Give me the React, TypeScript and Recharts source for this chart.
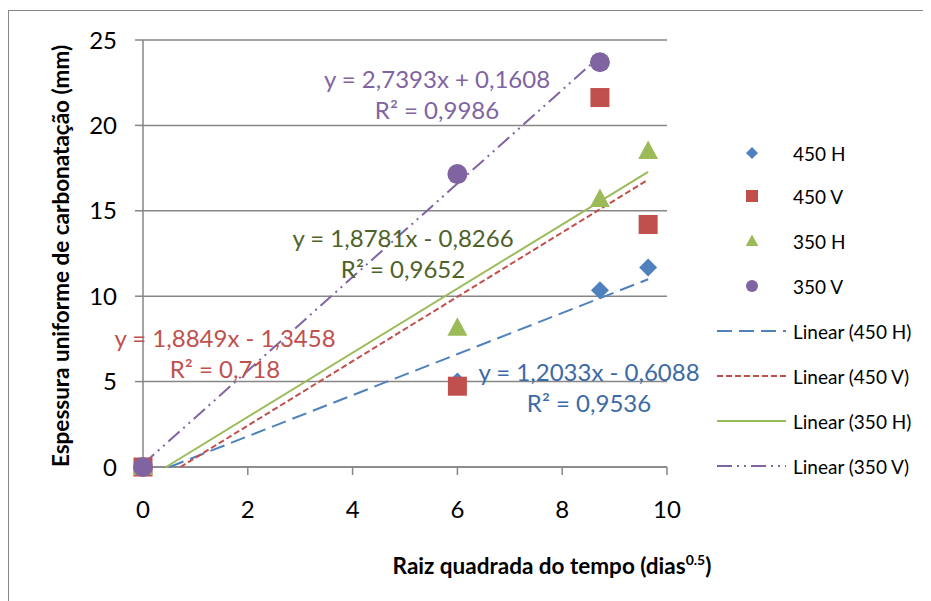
import { ScatterChart, Scatter, XAxis, YAxis, CartesianGrid } from "recharts";

// sqrt(days) at each reading
const X_TIME = [0, 6, 8.72, 9.64];
const X_TIME_350V = [0, 6, 8.72];

const Y_450H = [0, 5.0, 10.35, 11.68];
const Y_450V = [0, 4.73, 21.63, 14.2];
const Y_350H = [0, 8.15, 15.7, 18.5];
const Y_350V = [0, 17.15, 23.7];

const NAMES = ["450 H", "450 V", "350 H", "350 V"];
const SLOPES = [1.2033, 1.8849, 1.8781, 2.7393];
const INTERCEPTS = [-0.6088, -1.3458, -0.8266, 0.1608];
const EQUATIONS = [
  "y = 1,2033x - 0,6088",
  "y = 1,8849x - 1,3458",
  "y = 1,8781x - 0,8266",
  "y = 2,7393x + 0,1608",
];
const R2 = ["R² = 0,9536", "R² = 0,718", "R² = 0,9652", "R² = 0,9986"];

const X_TICKS = [0, 2, 4, 6, 8, 10];
const Y_TICKS = [0, 5, 10, 15, 20, 25];

const COLORS = ["#4F81BD", "#C0504D", "#9BBB59", "#8064A2"];
const LABEL_COLORS = ["#3C6AA6", "#C0504D", "#4F6228", "#8064A2"];
const DASHES = ["15 7", "6 3", undefined, "15 5 2 5 2 5"];
const FONT = "Lato, 'Open Sans', sans-serif";
const GRID = "#868686";

const toPoints = (xs: number[], ys: number[]) => xs.map((x, i) => ({ x, y: ys[i] }));

const series = [
  toPoints(X_TIME, Y_450H),
  toPoints(X_TIME, Y_450V),
  toPoints(X_TIME, Y_350H),
  toPoints(X_TIME_350V, Y_350V),
];

// trendline from the fitted equation, cut at y = 0
const trend = (i: number) => {
  const m = SLOPES[i];
  const b = INTERCEPTS[i];
  const xs = series[i].map((p) => p.x);
  const x0 = b < 0 ? -b / m : 0;
  const x1 = Math.max(...xs);
  return [
    { x: x0, y: m * x0 + b },
    { x: x1, y: m * x1 + b },
  ];
};

function Marker({ kind, cx, cy, s, color }: any) {
  if (kind === 0)
    return <polygon points={`${cx},${cy - s} ${cx + s},${cy} ${cx},${cy + s} ${cx - s},${cy}`} fill={color} />;
  if (kind === 1) return <rect x={cx - s} y={cy - s} width={s * 2} height={s * 2} fill={color} />;
  if (kind === 2)
    return <polygon points={`${cx},${cy - s * 1.1} ${cx + s * 1.05},${cy + s * 0.85} ${cx - s * 1.05},${cy + s * 0.85}`} fill={color} />;
  return <circle cx={cx} cy={cy} r={s} fill={color} />;
}

const MARKER_SIZE = [9, 9.5, 9.5, 10];

// label positions in page pixels: [centerX, line1Y, line2Y]
const LABEL_POS = [
  [589, 371, 402],
  [225, 337, 368],
  [403, 237, 268],
  [437, 78, 109],
];

const LEGEND_ROWS = [153, 196, 241, 286, 331, 376, 421, 466];

export default function App() {
  return (
    <div style={{ position: "relative", width: 923, height: 593, fontFamily: FONT }}>
      <div
        style={{
          position: "absolute",
          left: 0,
          top: 2,
          width: 923,
          height: 591,
          borderLeft: `1.5px solid ${GRID}`,
          borderTop: `1.5px solid ${GRID}`,
          boxSizing: "border-box",
        }}
      />
      <ScatterChart width={923} height={593} margin={{ top: 32, right: 264, bottom: 94, left: 0 }}>
        <CartesianGrid vertical={false} stroke={GRID} strokeWidth={1.5} horizontalValues={Y_TICKS} />
        <XAxis
          type="number"
          dataKey="x"
          domain={[0, 10]}
          ticks={X_TICKS}
          height={40}
          stroke={GRID}
          strokeWidth={1.5}
          tickSize={8}
          tickMargin={26}
          tick={{ fill: "#000", fontSize: 24, fontFamily: FONT }}
        />
        <YAxis
          type="number"
          dataKey="y"
          domain={[0, 25]}
          ticks={Y_TICKS}
          width={135}
          stroke={GRID}
          strokeWidth={1.5}
          tickSize={8}
          tickMargin={18}
          tick={{ fill: "#000", fontSize: 24, fontFamily: FONT }}
        />
        {NAMES.map((n, i) => (
          <Scatter
            key={"t" + n}
            data={trend(i)}
            line={{ stroke: COLORS[i], strokeWidth: 2, strokeDasharray: DASHES[i] }}
            shape={() => <g />}
            isAnimationActive={false}
          />
        ))}
        {NAMES.map((n, i) => (
          <Scatter
            key={n}
            name={n}
            data={series[i]}
            isAnimationActive={false}
            shape={(p: any) => <Marker kind={i} cx={p.cx} cy={p.cy} s={MARKER_SIZE[i]} color={COLORS[i]} />}
          />
        ))}
      </ScatterChart>

      {NAMES.map((n, i) => (
        <div key={"lab" + n}>
          <div
            style={{
              position: "absolute",
              left: LABEL_POS[i][0] - 8,
              top: LABEL_POS[i][1] - 8,
              transform: "translate(-50%, -50%)",
              whiteSpace: "nowrap",
              color: LABEL_COLORS[i],
              fontSize: 24,
            }}
          >
            {EQUATIONS[i]}
          </div>
          <div
            style={{
              position: "absolute",
              left: LABEL_POS[i][0] - 8,
              top: LABEL_POS[i][2] - 8,
              transform: "translate(-50%, -50%)",
              whiteSpace: "nowrap",
              color: LABEL_COLORS[i],
              fontSize: 24,
            }}
          >
            {R2[i]}
          </div>
        </div>
      ))}

      <div
        style={{
          position: "absolute",
          left: 60 - 8,
          top: 256 - 8,
          transform: "translate(-50%, -50%) rotate(-90deg)",
          whiteSpace: "nowrap",
          fontWeight: 700,
          fontSize: 22.5,
        }}
      >
        Espessura uniforme de carbonatação (mm)
      </div>
      <div
        style={{
          position: "absolute",
          left: 552 - 8,
          top: 565 - 8,
          transform: "translate(-50%, -50%)",
          whiteSpace: "nowrap",
          fontWeight: 700,
          fontSize: 22.5,
        }}
      >
        Raiz quadrada do tempo (dias<sup style={{ fontSize: 14 }}>0.5</sup>)
      </div>

      {LEGEND_ROWS.map((y, r) => {
        const i = r % 4;
        const isLine = r >= 4;
        const label = isLine ? `Linear (${NAMES[i]})` : NAMES[i];
        return (
          <div key={"leg" + r}>
            <svg
              width={72}
              height={20}
              style={{ position: "absolute", left: 716 - 8, top: y - 10 - 8, overflow: "visible" }}
            >
              {isLine ? (
                <line x1={1} y1={10} x2={70} y2={10} stroke={COLORS[i]} strokeWidth={2} strokeDasharray={DASHES[i]} />
              ) : (
                <Marker kind={i} cx={36} cy={10} s={6} color={COLORS[i]} />
              )}
            </svg>
            <div
              style={{
                position: "absolute",
                left: 793 - 8,
                top: y - 8,
                transform: "translateY(-50%)",
                whiteSpace: "nowrap",
                fontSize: 19,
              }}
            >
              {label}
            </div>
          </div>
        );
      })}
    </div>
  );
}
